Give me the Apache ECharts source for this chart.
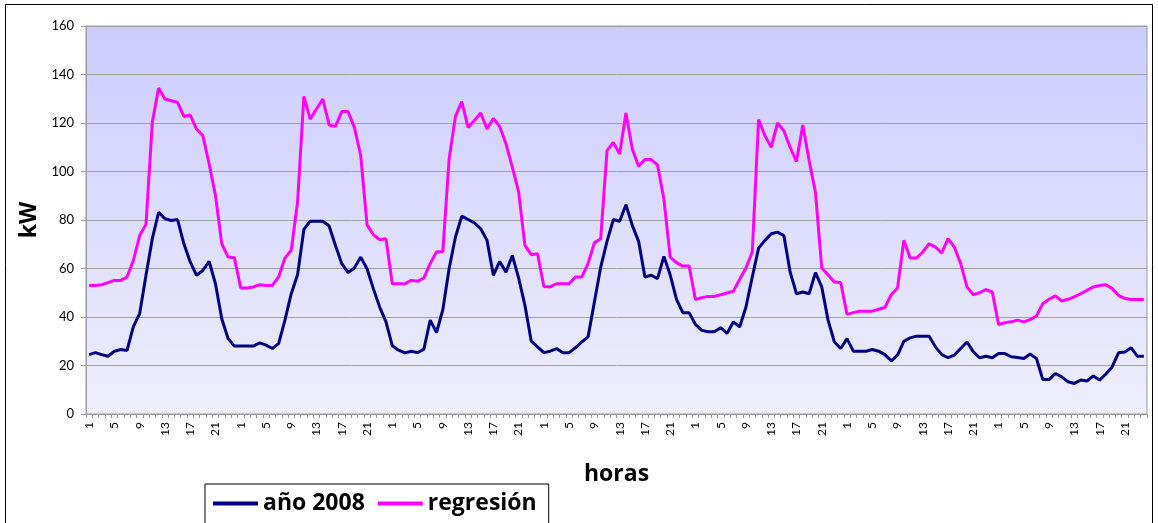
<!DOCTYPE html>
<html>
<head>
<meta charset="utf-8">
<style>
  html, body { margin: 0; padding: 0; background: #ffffff; }
  #chart { width: 1158px; height: 523px; }
</style>
<script src="https://cdn.jsdelivr.net/npm/echarts@6/dist/echarts.min.js"></script>
</head>
<body>
<div id="chart"></div>
<script>
// Hourly load over one week (7 days x 24 hours)
const hoursOfDay = Array.from({ length: 24 }, (_, h) => String(h + 1));
const days = 7;
const categories = [];
for (let d = 0; d < days; d++) categories.push(...hoursOfDay);

// Measured load, year 2008 (kW)
const anio2008 = [
  24.5, 25.3, 24.5, 23.8, 25.9, 26.6, 26.2, 36, 41.4, 57.2, 72.3, 83.2, 80.5, 79.8, 80.2, 70.2, 62.7, 57.2, 59.2, 62.9, 53.7, 39.3, 31.1, 28,
  28, 28, 28, 29.3, 28.4, 27, 29, 38.7, 49.6, 57.4, 76.1, 79.5, 79.5, 79.5, 77.5, 69.5, 62, 58.3, 60.2, 64.7, 59.9, 51.7, 44.1, 38,
  28.1, 26.3, 25.2, 25.9, 25.3, 26.7, 38.7, 33.6, 43, 60, 73, 81.6, 80.2, 78.8, 76.4, 71.6, 57.2, 62.9, 58.5, 65.4, 56.1, 44.8, 30, 27.7,
  25.3, 25.9, 27, 25.3, 25.3, 27.3, 29.7, 31.8, 46.2, 60.6, 71.2, 80.2, 79.5, 86.3, 77.8, 71.2, 56.5, 57.2, 55.8, 65, 57.4, 47.3, 41.8, 41.8,
  36.9, 34.5, 33.9, 33.9, 35.6, 33.2, 38, 35.9, 44.1, 56.5, 68.4, 71.6, 74.3, 75, 73.6, 58.5, 49.6, 50.3, 49.6, 58.3, 52.4, 38.7, 29.7, 27,
  31.1, 25.9, 25.9, 25.9, 26.6, 25.9, 24.5, 21.9, 24.3, 30, 31.4, 32.1, 32.1, 32.1, 27.7, 24.5, 23.2, 24.3, 27, 29.7, 25.6, 23.2, 23.8, 23.2,
  24.9, 24.9, 23.6, 23.3, 22.9, 24.7, 22.9, 14.2, 14.2, 16.7, 15.3, 13.3, 12.6, 14, 13.6, 15.7, 14, 16.5, 19.5, 25.3, 25.6, 27.3, 23.8, 23.8
];

// Regression estimate (kW)
const regresion = [
  53, 53, 53.3, 54.2, 55.1, 55.1, 56.5, 63.3, 73.6, 78.2, 120.3, 134.4, 129.9, 129.2, 128.5, 122.7, 123.3, 117.5, 114.8, 103.1, 90.1, 70.2, 64.7, 64.4,
  52, 52, 52.4, 53.3, 53, 53, 56.5, 64.3, 67.5, 87.4, 131, 121.6, 125.8, 129.9, 119.2, 118.6, 124.7, 124.7, 118.2, 106.6, 78, 73.9, 71.9, 72.3,
  53.7, 53.7, 53.7, 55.1, 54.7, 56.1, 62, 66.8, 67, 105.2, 122.7, 128.8, 118.2, 121, 124.1, 117.5, 121.9, 118.6, 111.4, 101.8, 91.7, 69.5, 65.7, 66.1,
  52.6, 52.4, 53.7, 53.7, 53.7, 56.5, 56.5, 62, 70.6, 72.3, 108.6, 112, 107.2, 124.1, 109.3, 102.2, 104.9, 104.9, 102.7, 88.7, 64.7, 62.4, 61, 61,
  47.2, 48, 48.5, 48.5, 49.2, 49.9, 50.6, 55.5, 60.2, 66.8, 121.4, 114.8, 110, 120, 116.8, 110, 104.1, 119.2, 104.5, 91.5, 60.2, 57.4, 54.4, 54.2,
  41.1, 41.8, 42.4, 42.4, 42.4, 43.2, 43.9, 49.2, 52, 71.6, 64.3, 64.3, 66.8, 70.2, 68.8, 66.4, 72.3, 68.8, 62, 52.4, 49.2, 50, 51.3, 50.3,
  36.9, 37.6, 38, 38.7, 38, 38.9, 40.4, 45.5, 47.3, 48.7, 46.6, 47.3, 48.3, 49.6, 51, 52.4, 53, 53.3, 51.7, 48.9, 47.6, 47.2, 47.2, 47.2
];

const yTicks = { min: 0, max: 160, step: 20 };
const seriesNames = ['año 2008', 'regresión'];

const FONT = 'Lato, "Open Sans", sans-serif';
const TITLE_FONT = '"Open Sans", Lato, sans-serif';

const chart = echarts.init(document.getElementById('chart'), null, { renderer: 'canvas' });

chart.setOption({
  backgroundColor: '#ffffff',
  animation: false,
  textStyle: { fontFamily: FONT },
  graphic: [{
    type: 'rect',
    shape: { x: 5.5, y: 4.5, width: 1147, height: 540 },
    style: { fill: 'none', stroke: '#000000', lineWidth: 1 },
    silent: true,
    z: -1
  }],
  grid: {
    left: 86, right: 11, top: 26, bottom: 109,
    show: true,
    borderColor: '#9a9a9a',
    borderWidth: 1,
    backgroundColor: new echarts.graphic.LinearGradient(0, 0, 0, 1, [
      { offset: 0, color: '#ccccff' },
      { offset: 1, color: '#eeeefc' }
    ])
  },
  legend: {
    data: seriesNames,
    left: 205,
    top: 484,
    padding: [8, 12, 14, 8],
    itemGap: 13,
    itemWidth: 45,
    itemHeight: 4,
    icon: 'rect',
    borderColor: '#000000',
    borderWidth: 1,
    textStyle: { fontFamily: TITLE_FONT, fontWeight: 'bold', fontSize: 23, color: '#000000' }
  },
  xAxis: {
    type: 'category',
    data: categories,
    boundaryGap: true,
    name: 'horas',
    nameLocation: 'middle',
    nameGap: 49,
    nameTextStyle: { fontFamily: TITLE_FONT, fontWeight: 'bold', fontSize: 23, color: '#000000' },
    axisLine: { show: true, lineStyle: { color: '#9a9a9a', width: 1 } },
    axisTick: { show: true, interval: 0, length: 4, lineStyle: { color: '#9a9a9a' } },
    axisLabel: {
      interval: 3,
      rotate: 90,
      fontSize: 12,
      color: '#000000',
      margin: 8,
      fontFamily: FONT
    },
    splitLine: { show: false }
  },
  yAxis: {
    type: 'value',
    min: yTicks.min,
    max: yTicks.max,
    interval: yTicks.step,
    name: 'kW',
    nameLocation: 'middle',
    nameRotate: 90,
    nameGap: 42,
    nameTextStyle: { fontFamily: TITLE_FONT, fontWeight: 'bold', fontSize: 23, color: '#000000' },
    axisLine: { show: true, lineStyle: { color: '#9a9a9a', width: 1 } },
    axisTick: { show: true, length: 5, lineStyle: { color: '#9a9a9a' } },
    axisLabel: { fontSize: 13, color: '#000000', margin: 12, fontFamily: FONT },
    splitLine: { show: true, lineStyle: { color: '#a0a0a0', width: 1 } }
  },
  series: [
    {
      name: seriesNames[0],
      type: 'line',
      data: anio2008,
      symbol: 'none',
      lineStyle: { color: '#000080', width: 3 },
      itemStyle: { color: '#000080' },
      z: 3
    },
    {
      name: seriesNames[1],
      type: 'line',
      data: regresion,
      symbol: 'none',
      lineStyle: { color: '#ff00ff', width: 3 },
      itemStyle: { color: '#ff00ff' },
      z: 2
    }
  ]
});
</script>
</body>
</html>
